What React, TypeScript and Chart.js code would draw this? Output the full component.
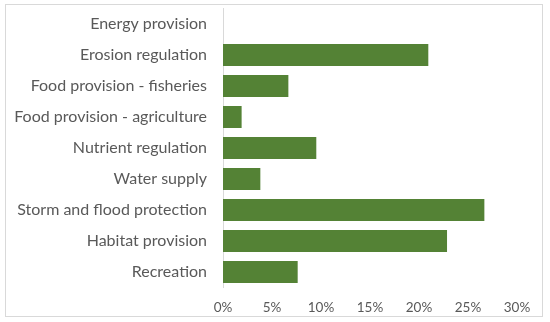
import React, { useEffect, useRef } from "react";
import { Chart, registerables } from "chart.js";

Chart.register(...registerables);

const categories = [
  "Energy provision",
  "Erosion regulation",
  "Food provision - fisheries",
  "Food provision - agriculture",
  "Nutrient regulation",
  "Water supply",
  "Storm and flood protection",
  "Habitat provision",
  "Recreation",
];
const shares = [0, 20.95, 6.67, 1.9, 9.52, 3.81, 26.67, 22.86, 7.62];
const xTicks = [0, 5, 10, 15, 20, 25, 30];

const FONT = "Lato, 'Open Sans', sans-serif";
const TEXT = "#595959";

const frame = {
  id: "frame",
  beforeDraw(chart: any) {
    const ctx = chart.ctx;
    ctx.save();
    ctx.fillStyle = "#ffffff";
    ctx.fillRect(0, 0, chart.width, chart.height);
    ctx.strokeStyle = "#d9d9d9";
    ctx.lineWidth = 1;
    ctx.strokeRect(5.5, 4.5, 537, 312);
    ctx.restore();
  },
};

export default function App() {
  const ref = useRef<HTMLCanvasElement | null>(null);
  useEffect(() => {
    document.body.style.margin = "0";
    const chart = new Chart(ref.current!, {
      type: "bar",
      data: {
        labels: categories,
        datasets: [
          {
            data: shares,
            backgroundColor: "#548235",
            borderWidth: 0,
            barPercentage: 0.71,
            categoryPercentage: 1,
          },
        ],
      },
      options: {
        indexAxis: "y",
        animation: false,
        responsive: false,
        devicePixelRatio: 1,
        layout: { padding: { top: 8.5, right: 33, bottom: 4.5, left: 0 } },
        plugins: { legend: { display: false }, tooltip: { enabled: false } },
        scales: {
          x: {
            min: 0,
            max: 30,
            afterBuildTicks: (s: any) => {
              s.ticks = xTicks.map((v) => ({ value: v }));
            },
            afterFit: (s: any) => {
              s.height = 30;
            },
            grid: { display: false, drawTicks: false },
            border: { display: false },
            ticks: {
              color: TEXT,
              font: { family: FONT, size: 13.5 },
              padding: 12.5,
              callback: (v: any) => v + "%",
            },
          },
          y: {
            afterFit: (s: any) => {
              s.width = 223;
              s.paddingTop = 0;
              s.paddingBottom = 0;
            },
            grid: { display: false, drawTicks: false },
            border: { display: true, color: "#d9d9d9", width: 1 },
            ticks: {
              color: TEXT,
              font: { family: FONT, size: 16 },
              padding: 16,
              autoSkip: false,
            },
          },
        },
      },
      plugins: [frame],
    });
    return () => chart.destroy();
  }, []);
  return (
    <div style={{ position: "absolute", left: 0, top: 0, width: 550, height: 322 }}>
      <canvas ref={ref} width={550} height={322} style={{ display: "block" }} />
    </div>
  );
}
